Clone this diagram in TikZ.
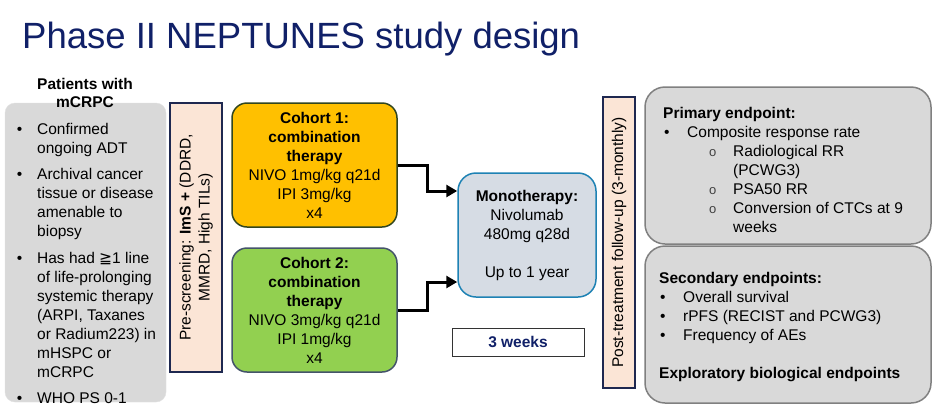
\documentclass[tikz,border=0pt]{standalone}
\usepackage{fontspec}
\setmainfont{Liberation Sans}
\newfontfamily\symfont{DejaVu Sans}
\usetikzlibrary{arrows.meta}

\definecolor{titleblue}{RGB}{16,32,104}
\definecolor{navyline}{RGB}{30,40,80}
\definecolor{peach}{RGB}{251,229,214}
\definecolor{boxgrey}{RGB}{217,217,217}
\definecolor{cohortorange}{RGB}{255,192,0}
\definecolor{cohortgreen}{RGB}{146,208,80}
\definecolor{monofill}{RGB}{214,220,228}
\definecolor{monoline}{RGB}{30,130,180}

\newcommand{\subdot}{\makebox[24pt][l]{\fontsize{13}{19}\selectfont\color{black!75}o}}

\begin{document}
\begin{tikzpicture}[x=1pt,y=-1pt,
  every node/.style={font=\fontsize{15.5}{19}\selectfont, inner sep=0pt},
  greybox/.style={rectangle, rounded corners=10pt, fill=boxgrey, draw=boxgrey!80},
  endbox/.style={rectangle, rounded corners=20pt, fill=boxgrey, draw=gray, line width=1.5pt},
  bar/.style={rectangle, fill=peach, draw=navyline, line width=1.5pt},
  cohort/.style={rectangle, rounded corners=15pt, line width=1.5pt, align=center,
    minimum width=165, minimum height=124},
  flow/.style={line width=3pt, -{Triangle[length=11pt,width=12pt]}}]
  \useasboundingbox[fill=white] (0,0) rectangle (936,416);

  % title
  \node[anchor=base west, font=\fontsize{36.5}{42}\selectfont, text=titleblue]
    at (22,48) (T) {Phase II NEPTUNES study design};

  % patients
  \node[greybox, minimum width=161, minimum height=299] at (85.5,252.5) (P) {};
  \node[align=center, font=\fontsize{15.5}{18}\selectfont\bfseries] at (85,93) (PH)
    {Patients with\\mCRPC};
  \node[align=left, anchor=north west] at (37,123) (PL) {%
    \llap{•\hspace{15pt}}Confirmed\\ongoing ADT\\[7.5pt]
    \llap{•\hspace{15pt}}Archival cancer\\tissue or disease\\amenable to\\biopsy\\[7.5pt]
    \llap{•\hspace{15pt}}Has had {\symfont ≧}1 line\\of life-prolonging\\systemic therapy\\(ARPI, Taxanes\\or Radium223) in\\mHSPC or\\mCRPC\\[7.5pt]
    \llap{•\hspace{15pt}}WHO PS 0-1};

  % pre-screening
  \node[bar, minimum width=52, minimum height=269] at (196,237.5) (S) {};
  \node[rotate=90, align=center] at (S.center) (ST)
    {Pre-screening: \textbf{ImS +} (DDRD,\\MMRD, High TILs)};

  % cohorts
  \node[cohort, fill=cohortorange, draw={rgb,255:red,50;green,70;blue,30}]
    at (314.5,165) (C1)
    {\textbf{Cohort 1:}\\\textbf{combination}\\\textbf{therapy}\\NIVO 1mg/kg q21d\\IPI 3mg/kg\\x4};
  \node[cohort, fill=cohortgreen, draw={rgb,255:red,68;green,84;blue,106}]
    at (314.5,310) (C2)
    {\textbf{Cohort 2:}\\\textbf{combination}\\\textbf{therapy}\\NIVO 3mg/kg q21d\\IPI 1mg/kg\\x4};

  % monotherapy
  \node[rectangle, rounded corners=18pt, fill=monofill, draw=monoline, line width=1.5pt,
    minimum width=138, minimum height=124, align=center] at (527,235) (M)
    {\textbf{Monotherapy:}\\Nivolumab\\480mg q28d\\[19pt]Up to 1 year};
  \draw[flow] (C1.east) -- ++(30,0) |- ([yshift=44pt]M.west);
  \draw[flow] (C2.east) -- ++(30,0) |- ([yshift=-47pt]M.west);

  \node[rectangle, draw=black!80, fill=white, line width=0.8pt, minimum width=132,
    minimum height=28, font=\fontsize{15.5}{19}\selectfont\bfseries, text=titleblue]
    at (518,342) (W) {3 weeks};

  % follow-up
  \node[bar, minimum width=32, minimum height=291] at (619,242.5) (F) {};
  \node[rotate=90] at (F.center) (FT) {Post-treatment follow-up (3-monthly)};

  % endpoints
  \node[endbox, minimum width=286, minimum height=157] at (788,165.5) (E1) {};
  \node[endbox, minimum width=286, minimum height=157] at (788,324.5) (E2) {};
  \node[align=left, anchor=north west] at (663,107) (E1T) {%
    \textbf{Primary endpoint:}\\
    \makebox[24pt][l]{\hspace{1pt}•}Composite response rate\\
    \hspace{46pt}\subdot Radiological RR\\
    \hspace{70pt}(PCWG3)\\
    \hspace{46pt}\subdot PSA50 RR\\
    \hspace{46pt}\subdot Conversion of CTCs at 9\\
    \hspace{70pt}weeks};
  \node[align=left, anchor=north west] at (659,272) (E2T) {%
    \textbf{Secondary endpoints:}\\
    \makebox[24pt][l]{\hspace{1pt}•}Overall survival\\
    \makebox[24pt][l]{\hspace{1pt}•}rPFS (RECIST and PCWG3)\\
    \makebox[24pt][l]{\hspace{1pt}•}Frequency of AEs\\[19pt]
    \textbf{Exploratory biological endpoints}};
\end{tikzpicture}
\end{document}
